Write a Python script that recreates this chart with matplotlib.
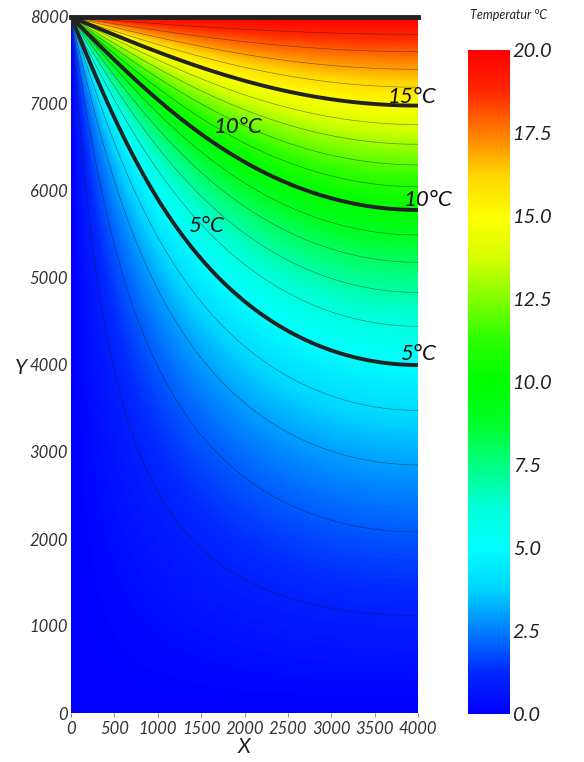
import numpy as np
import matplotlib
matplotlib.use("Agg")
import matplotlib.pyplot as plt
from matplotlib.colors import LinearSegmentedColormap

# Geometrie und Randbedingungen (Laplace: links/unten 0 °C, oben 20 °C, rechts isoliert)
breite = 4000.0
hoehe = 8000.0
t_oben = 20.0

x_ticks = [0, 500, 1000, 1500, 2000, 2500, 3000, 3500, 4000]
y_ticks = [0, 1000, 2000, 3000, 4000, 5000, 6000, 7000, 8000]
cb_ticks = [0.0, 2.5, 5.0, 7.5, 10.0, 12.5, 15.0, 17.5, 20.0]
duenne_level = [l for l in range(1, 20) if l % 5 != 0]
dicke_level = [5, 10, 15]

# Beschriftungen der Isolinien (Text, x, y)
iso_labels = ["15°C", "10°C", "10°C", "5°C", "5°C"]
iso_x = [3650, 1640, 3830, 1350, 3790]
iso_y = [7080, 6740, 5900, 5600, 4130]

# Regenbogen blau -> cyan -> gruen -> gelb -> rot, reine Farben etwas breiter
farben = [
    (0.00, (0.0, 0.0, 1.0)), (0.0625, (0.0, 0.16, 1.0)), (0.1875, (0.0, 0.84, 1.0)),
    (0.25, (0.0, 1.0, 1.0)), (0.3125, (0.0, 1.0, 0.84)), (0.4375, (0.0, 1.0, 0.16)),
    (0.50, (0.0, 1.0, 0.0)), (0.5625, (0.16, 1.0, 0.0)), (0.6875, (0.84, 1.0, 0.0)),
    (0.75, (1.0, 1.0, 0.0)), (0.8125, (1.0, 0.84, 0.0)), (0.9375, (1.0, 0.16, 0.0)),
    (1.00, (1.0, 0.0, 0.0)),
]
cmap = LinearSegmentedColormap.from_list("rainbow_pv", farben)

# Temperaturfeld als Fourier-Reihe
x = np.linspace(0, breite, 401)
y = np.linspace(0, hoehe, 801)
X, Y = np.meshgrid(x, y)
T = np.zeros_like(X)
for n in range(1, 400):
    k = (2 * n - 1) * np.pi / (2 * breite)
    a = 4 * t_oben / ((2 * n - 1) * np.pi)
    ratio = np.exp(k * (Y - hoehe)) * (1 - np.exp(-2 * k * Y)) / (1 - np.exp(-2 * k * hoehe))
    T += a * np.sin(k * X) * ratio
T[-1, :] = t_oben
T[:, 0] = 0.0
T = np.clip(T, 0, t_oben)

fig = plt.figure(figsize=(5.84, 7.62), dpi=100)
ax = fig.add_axes([71 / 584, 49 / 762, 347 / 584, 696 / 762])
cax = fig.add_axes([468 / 584, 48 / 762, 42 / 584, 664 / 762])

im = ax.imshow(T, origin="lower", extent=[0, breite, 0, hoehe], cmap=cmap,
               vmin=0, vmax=t_oben, aspect="auto", interpolation="bilinear")
ax.contour(X, Y, T, levels=duenne_level, colors="#1a1a1a", linewidths=0.5, alpha=0.5)
ax.contour(X, Y, T, levels=dicke_level, colors="#222222", linewidths=2.8)
ax.axhline(hoehe, color="#222222", lw=3.5, clip_on=False)

schrift = dict(family="Lato", style="italic")
for txt, xx, yy in zip(iso_labels, iso_x, iso_y):
    ax.text(xx, yy, txt, fontsize=16, va="center", ha="left", color="#111111",
            clip_on=False, **schrift)

ax.set_xlim(0, breite)
ax.set_ylim(0, hoehe)
for s in ax.spines.values():
    s.set_visible(False)
ax.set_xticks(x_ticks)
ax.set_yticks(y_ticks)
ax.set_xticklabels([str(v) for v in x_ticks], fontsize=12, color="#333333", **schrift)
ax.set_yticklabels([str(v) for v in y_ticks], fontsize=12, color="#333333", **schrift)
ax.tick_params(axis="x", length=3, width=0.6, color="#777777", pad=3)
ax.tick_params(axis="y", length=0, pad=2)
ax.set_xlabel("X", fontsize=15, color="#222222", labelpad=0, **schrift)
ax.set_ylabel("Y", fontsize=15, color="#222222", rotation=0, va="center", **schrift)
ax.yaxis.set_label_coords(-0.145, (713 - 368) / 696)

cb = fig.colorbar(im, cax=cax, ticks=cb_ticks)
cb.outline.set_visible(False)
cb.ax.tick_params(length=0, pad=2)
cb.ax.set_yticklabels([f"{v:.1f}" for v in cb_ticks], fontsize=14.5, color="#222222", **schrift)
fig.text(470 / 584, 1 - 15 / 762, "Temperatur °C", fontsize=9, color="#222222",
         ha="left", va="center", **schrift)

fig.savefig("out.png", dpi=100)
